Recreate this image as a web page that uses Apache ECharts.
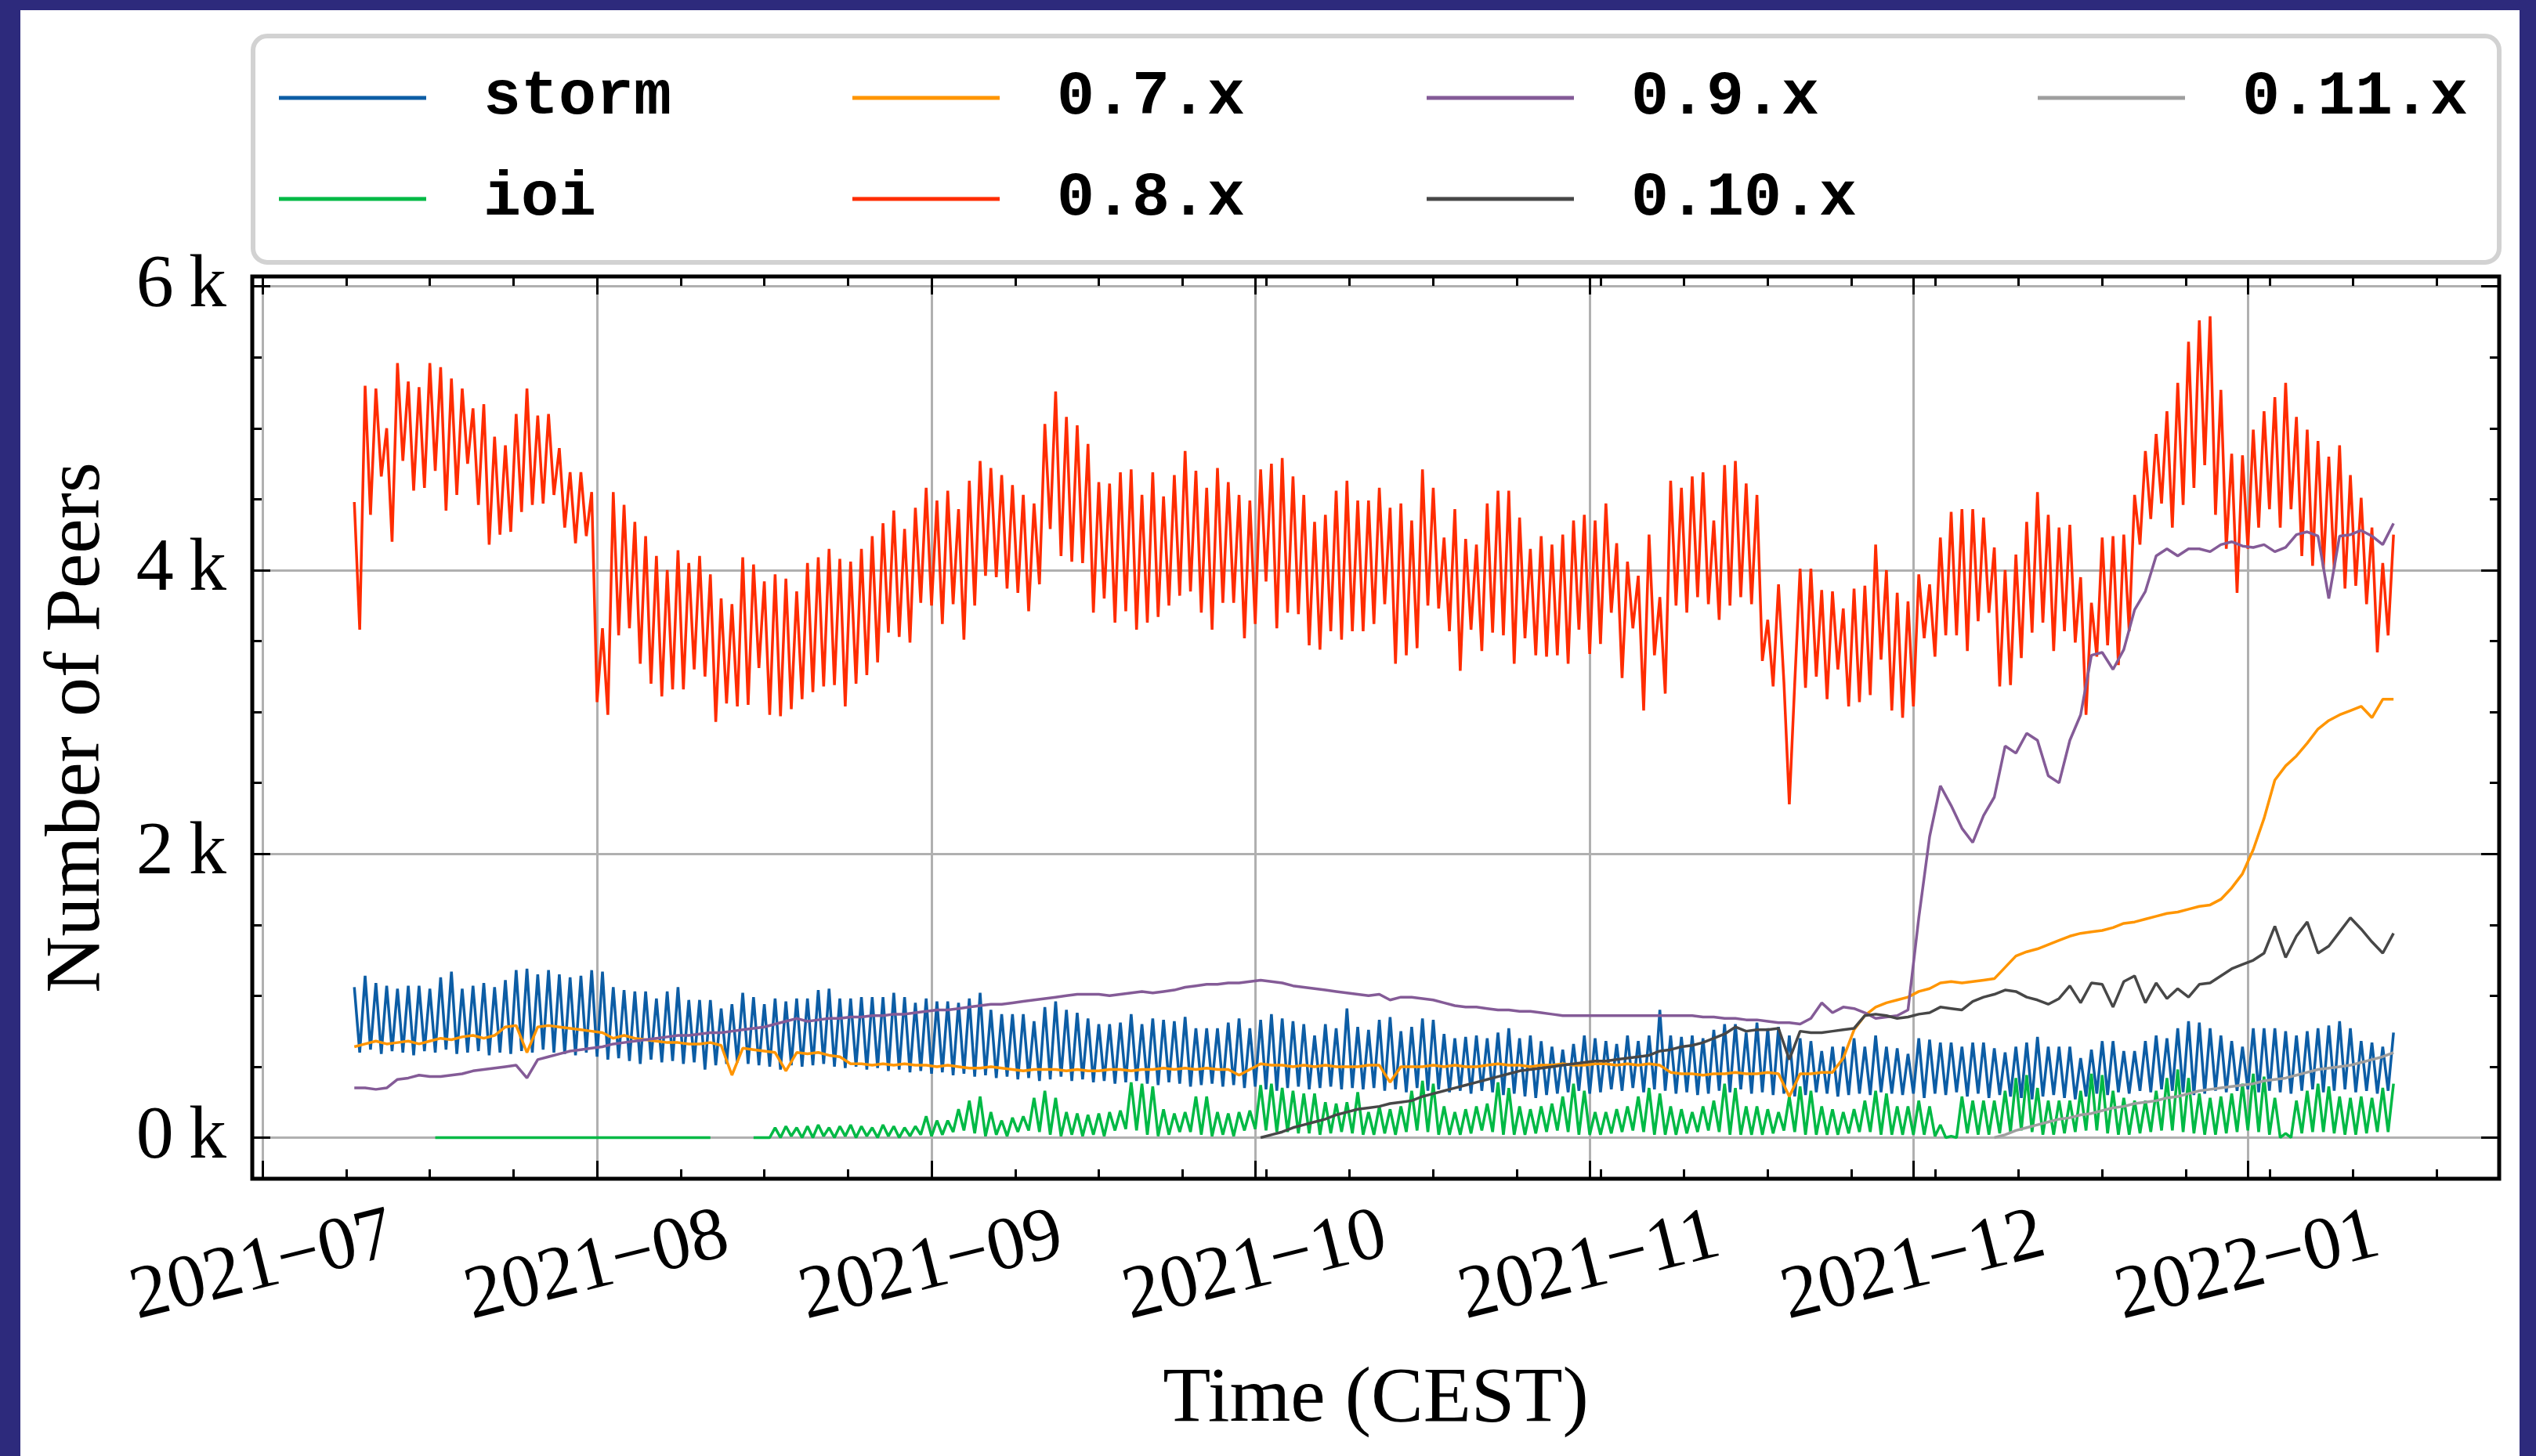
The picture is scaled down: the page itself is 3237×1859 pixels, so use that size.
<!DOCTYPE html>
<html><head><meta charset="utf-8">
<script src="https://cdn.jsdelivr.net/npm/echarts@6/dist/echarts.min.js"></script>
<style>
html,body{margin:0;padding:0;background:#2d2a7c;width:3237px;height:1859px;overflow:hidden;}
#panel{position:absolute;left:26px;top:13px;width:3190px;height:1846px;background:#ffffff;}
#chart{width:3190px;height:1846px;}
</style></head><body>
<div id="panel"><div id="chart"></div></div>
<script>
// ---------------- DATA (values in thousands of peers) ----------------
const seriesNames = ['storm', 'ioi', '0.7.x', '0.8.x', '0.9.x', '0.10.x', '0.11.x'];
const seriesColors = ['#0C5DA5', '#00B945', '#FF9500', '#FF2C00', '#845B97', '#474747', '#9e9e9e'];

// sample timeline: half-day samples starting 2021-07-09 12:00 UTC
const sampleStart = Date.UTC(2021, 6, 9, 12);
const sampleStepHours = 12;

const monthTicks = ['2021-07-01', '2021-08-01', '2021-09-01', '2021-10-01', '2021-11-01', '2021-12-01', '2022-01-01'];
const minorTickStepDays = 7.75;
const yTicks = [0, 2, 4, 6];
const yMinorTicks = [0.5, 1, 1.5, 2.5, 3, 3.5, 4.5, 5, 5.5];
const xRange = ['2021-06-30T01:00:00Z', '2022-01-24T07:00:00Z'];
const yRange = [-0.29, 6.07];

// 0.8.x : half-day samples (peak / trough alternating)
const v08_jul = [4.48,3.58,5.30,4.39,5.28,4.66,5.00,4.20,5.46,4.77,
5.33,4.56,5.29,4.58,5.46,4.70,5.43,4.42,5.35,4.53,
5.28,4.75,5.14,4.46,5.17,4.18,4.94,4.25,4.88,4.27,
5.10,4.41,5.28,4.46,5.09,4.47,5.10,4.53,4.86,4.30,
4.69,4.19,4.69,4.24,4.55,3.07,3.59,2.98,4.55,3.54,
4.46,3.59,4.34,3.34,4.24,3.20,4.10,3.11,4.00,3.16,
4.14,3.16,4.05,3.30,4.10,3.25,3.97,2.93,3.80,3.06,
3.76,3.04,4.09,3.05,4.04,3.31,3.92,2.98,3.97,2.97,
3.94,3.02,3.85,3.09];
const v08_sep = [4.05,3.14,4.09,3.18,4.15,3.19,4.08,3.04,4.06,3.20,
4.15,3.26,4.24,3.35,4.33,3.56,4.42,3.53,4.29,3.49,
4.44,3.77,4.58,3.75,4.49,3.62,4.56,3.76,4.43,3.51,
4.63,3.75,4.77,3.96,4.72,3.95,4.67,3.87,4.60,3.84,
4.53,3.71,4.47,3.90,5.03,4.29,5.26,4.10,5.08,4.06,
5.02,4.05,4.89,3.70,4.62,3.80,4.61,3.63,4.69,3.71,
4.71,3.58,4.53,3.63,4.69,3.67,4.52,3.75,4.67,3.82,
4.84,3.85,4.70,3.70,4.58,3.58,4.72,3.77,4.62,3.77,
4.53,3.52,4.49,3.62,4.71,3.92,4.75,3.59,4.79,3.70,
4.66,3.69,4.53,3.47,4.34,3.44,4.39,3.57,4.56,3.51,
4.63,3.57,4.49];
const v08_oct = [3.57,4.49,3.62,4.58,3.76,4.44,3.34,4.47,3.40,4.35,
3.45,4.71,3.75,4.58,3.73,4.23,3.57,4.43,3.29,4.22,
3.58,4.18,3.43,4.47,3.56,4.56,3.54,4.56,3.34,4.37,
3.52,4.15,3.40,4.24,3.39,4.18,3.40,4.25,3.34,4.35,
3.58,4.39,3.41,4.35,3.48,4.47,3.70,4.19,3.24,4.06,
3.59,3.96,3.01,4.25,3.40,3.81,3.13,4.63,3.75,4.58,
3.70,4.66,3.81,4.69,3.76,4.35,3.65,4.74,3.75,4.77,
3.81,4.61,3.76,4.53,3.36,3.65,3.18,3.90,3.21,2.35,
3.20,4.01,3.17,4.01,3.25,3.86,3.09,3.85,3.30,3.73,
3.04,3.87,3.07,3.89,3.12,4.18,3.37,4.00,3.01,3.84,
2.96,3.78,3.04,3.97];
const v08_dec = [3.52,3.90,3.39,4.23,3.54,4.41,3.54,4.43,3.43,4.43,
3.64,4.37,3.70,4.16,3.18,4.00,3.19,4.11,3.38,4.34,
3.56,4.55,3.63,4.39,3.43,4.30,3.57,4.32,3.49,3.95,
2.98,3.77,3.39,4.23,3.47,4.24,3.33,4.25,3.57,4.53,
4.18,4.84,4.36,4.96,4.47,5.12,4.30,5.32,4.46,5.61,
4.58,5.76,4.74,5.79,4.39,5.27,4.15,4.82,3.84,4.81,
4.15,4.99,4.30,5.12,4.43,5.22,4.30,5.32,4.43,5.08,
4.10,4.99,4.03,4.91,4.01,4.80,4.01,4.88,3.87,4.67,
3.89,4.51,3.76,4.30,3.42,4.05,3.54,4.25];

// storm : daily peaks and troughs (half-day alternating)
const stormPeaks = [1.06,1.14,1.09,1.07,1.05,1.07,1.07,1.05,1.13,1.17,
1.05,1.07,1.09,1.06,1.11,1.18,1.19,1.15,1.18,1.15,
1.13,1.14,1.18,1.17,1.06,1.04,1.03,1.03,0.98,1.03,
1.06,0.97,0.97,0.97,0.91,0.94,1.02,0.99,0.94,0.98,
0.96,0.98,
0.98,1.04,1.05,0.98,0.98,0.99,0.99,0.99,1.02,0.99,
0.95,0.98,0.96,0.96,0.95,0.98,1.02,0.90,0.87,0.87,
0.87,0.82,0.92,0.96,0.90,0.88,0.84,0.80,0.80,0.81,
0.87,0.80,0.84,0.83,0.82,0.85,0.77,0.77,0.77,0.81,
0.84,0.77,0.83,0.87,0.84,0.82,0.80,0.72,0.80,0.77,
0.91,0.78,
0.76,0.83,0.85,0.75,0.78,0.84,0.83,0.73,0.70,0.71,
0.72,0.70,0.74,0.77,0.70,0.72,0.68,0.64,0.62,0.66,
0.72,0.70,0.68,0.66,0.72,0.68,0.72,0.90,0.72,0.71,
0.72,0.70,0.76,0.80,0.80,0.74,0.81,0.77,0.78,0.72,
0.70,0.68,0.61,0.64,0.64,0.70,0.64,0.72,0.64,0.63,
0.59,
0.70,0.69,0.67,0.67,0.64,0.67,0.67,0.63,0.60,0.64,
0.67,0.71,0.64,0.64,0.64,0.56,0.62,0.68,0.68,0.61,
0.61,0.68,0.72,0.70,0.77,0.82,0.81,0.77,0.72,0.68,
0.64,0.77,0.77,0.77,0.75,0.72,0.75,0.77,0.79,0.82,
0.77,0.68,0.67,0.64,0.74];
const stormTroughs = [0.60,0.62,0.59,0.61,0.60,0.58,0.61,0.60,0.62,0.59,
0.60,0.61,0.58,0.60,0.59,0.61,0.60,0.62,0.60,0.59,0.58,0.60,
0.57,0.55,0.56,0.54,0.52,0.55,0.53,0.54,0.52,0.53,
0.48,0.51,0.52,0.53,0.52,0.51,0.50,0.48,0.51,0.50,
0.51,0.52,0.50,0.49,0.50,0.48,0.49,0.47,0.48,0.46,
0.47,0.45,0.46,0.44,0.45,0.43,0.44,0.42,0.43,0.41,
0.42,0.40,0.41,0.43,0.40,0.41,0.39,0.40,0.38,0.39,
0.40,0.38,0.37,0.39,0.38,0.36,0.37,0.38,0.36,0.37,
0.35,0.36,0.34,0.33,0.35,0.36,0.34,0.35,0.36,0.34,
0.35,
0.34,0.35,0.33,0.34,0.32,0.35,0.33,0.34,0.32,0.33,
0.31,0.33,0.32,0.30,0.31,0.29,0.28,0.30,0.31,0.32,
0.33,0.31,0.32,0.34,0.33,0.35,0.32,0.34,0.33,0.31,
0.32,0.30,0.31,0.33,0.32,0.34,0.31,0.32,0.30,0.31,
0.29,0.30,0.32,0.31,0.29,0.30,0.31,0.30,0.32,0.31,
0.30,0.31,
0.28,0.31,0.30,0.32,0.29,0.31,0.28,0.30,0.29,0.28,
0.27,0.29,0.30,0.28,0.27,0.29,0.31,0.30,0.32,0.31,
0.33,0.32,0.34,0.33,0.32,0.30,0.31,0.33,0.32,0.33,
0.34,0.32,0.33,0.32,0.31,0.33,0.34,0.32,0.33,0.34,
0.32,0.33,0.31,0.33];

// ioi : leading half-day samples (flat zero with gaps), then daily peaks / troughs
const ioiLead = [null,null,null,null,null,null,null,null,null,null,null,null,null,null,null,
0,0,0,0,0,0,0,0,0,0,0,0,0,0,0,0,0,0,0,0,0,0,0,0,0,0,0,0,0,0,0,0,0,0,0,0,0,0,0,0,0,0,0,0,0,0,0,0,0,0,0,0,
null,0,null,null,null,null,null,0,0,0,0];
const ioiPeaks = [0.07,0.08,0.07,
0.08,0.09,0.07,0.08,0.09,0.08,0.07,0.09,0.08,0.07,0.08,
0.15,0.12,0.12,0.20,0.26,0.29,0.18,0.12,0.14,0.15,
0.28,0.33,0.28,0.18,0.17,0.16,0.17,0.18,0.19,0.39,
0.38,0.36,0.20,0.17,0.18,0.29,0.29,0.18,0.17,0.18,
0.19,0.37,0.38,0.35,0.33,0.31,0.31,0.25,0.24,0.25,0.32,
0.18,0.22,0.20,0.22,0.33,0.40,0.38,0.22,0.18,0.20,
0.22,0.24,0.39,0.35,0.22,0.20,0.22,0.24,0.29,0.38,
0.33,0.18,0.18,0.20,0.22,0.29,0.35,0.31,0.22,0.20,
0.18,0.22,0.26,0.38,0.35,0.22,0.22,0.20,0.18,0.29,
0.36,0.33,0.22,0.20,0.18,0.20,0.26,0.33,0.31,0.22,
0.22,
0.26,0.22,0.09,0.01,0.29,0.26,0.26,0.26,0.33,0.42,
0.44,0.35,0.26,0.26,0.26,0.33,0.45,0.44,0.33,0.28,
0.26,0.26,0.33,0.42,0.48,0.42,0.31,0.28,0.29,0.31,
0.38,0.45,0.43,0.28,0.03,0.26,0.33,0.38,0.36,0.29,
0.28,0.29,0.28,0.35,0.38];
const ioiTroughs = [0.00,0.01,0.00,
0.00,0.01,0.00,0.01,0.00,0.01,0.00,0.01,0.00,0.01,
0.02,0.01,0.02,0.04,0.05,0.03,0.01,0.02,0.01,0.04,
0.05,0.04,0.02,0.01,0.02,0.01,0.02,0.01,0.05,0.06,
0.05,0.02,0.01,0.02,0.04,0.04,0.02,0.01,0.02,0.01,
0.05,0.06,0.05,0.04,0.04,0.03,0.03,0.02,0.03,0.04,
0.03,
0.02,0.02,0.03,0.02,0.04,0.05,0.04,0.02,0.02,0.02,
0.03,0.05,0.04,0.02,0.02,0.02,0.03,0.04,0.05,0.04,
0.02,0.02,0.02,0.03,0.04,0.05,0.04,0.02,0.02,0.02,
0.03,0.04,0.05,0.04,0.02,0.02,0.02,0.02,0.03,0.05,
0.04,0.02,0.02,0.02,0.02,0.03,0.04,0.04,0.02,0.02,
0.02,
0.02,0.02,0.01,0.00,0.00,0.03,0.02,0.02,0.03,0.04,
0.05,0.04,0.02,0.02,0.03,0.04,0.05,0.05,0.03,0.02,
0.02,0.03,0.04,0.05,0.05,0.04,0.03,0.02,0.02,0.03,
0.04,0.05,0.04,0.02,0.00,0.00,0.03,0.04,0.04,0.03,
0.02,0.02,0.03,0.04,0.04];

// daily samples
const v07 = [0.64,0.66,0.68,0.66,0.67,0.68,0.66,0.68,0.70,0.69,
0.71,0.72,0.70,0.72,0.78,0.79,0.60,0.78,0.79,0.78,
0.77,0.76,0.75,0.74,0.70,0.72,0.70,0.69,0.68,0.67,
0.67,0.66,0.66,0.67,0.65,0.44,0.63,0.62,0.61,0.60,
0.47,0.60,
0.59,0.60,0.58,0.57,0.52,0.52,0.51,0.52,0.51,0.52,
0.51,0.51,0.50,0.51,0.50,0.49,0.49,0.50,0.49,0.48,
0.47,0.48,0.48,0.48,0.47,0.48,0.47,0.47,0.48,0.48,
0.47,0.48,0.48,0.49,0.48,0.49,0.48,0.49,0.48,0.48,
0.44,0.48,0.52,0.51,0.51,0.50,0.51,0.50,0.51,0.50,
0.50,
0.50,0.51,0.51,0.39,0.50,0.50,0.50,0.51,0.50,0.51,
0.50,0.50,0.51,0.52,0.51,0.51,0.50,0.51,0.51,0.52,
0.51,0.51,0.52,0.52,0.51,0.52,0.51,0.52,0.51,0.46,
0.45,0.45,0.44,0.45,0.45,0.46,0.45,0.45,0.46,0.45,
0.29,0.45,0.45,0.46,0.46,0.56,0.76,0.86,0.92,0.95,
0.97,0.99,
1.03,1.05,1.09,1.10,1.09,1.10,1.11,1.12,1.20,1.28,
1.31,1.33,1.36,1.39,1.42,1.44,1.45,1.46,1.48,1.51,
1.52,1.54,1.56,1.58,1.59,1.61,1.63,1.64,1.68,1.76,
1.86,2.03,2.25,2.52,2.62,2.69,2.78,2.88,2.94,2.98,
3.01,3.04,2.96,3.09,3.09];
const v09 = [0.35,0.35,0.34,0.35,0.41,0.42,0.44,0.43,0.43,0.44,
0.45,0.47,0.48,0.49,0.50,0.51,0.42,0.55,0.57,0.59,
0.61,0.62,0.63,0.64,0.66,0.67,0.68,0.69,0.70,0.71,
0.72,0.72,0.73,0.74,0.74,0.75,0.76,0.77,0.78,0.80,
0.82,0.84,
0.82,0.83,0.84,0.84,0.85,0.85,0.86,0.86,0.87,0.87,
0.88,0.89,0.90,0.90,0.91,0.92,0.93,0.94,0.94,0.95,
0.96,0.97,0.98,0.99,1.00,1.01,1.01,1.01,1.00,1.01,
1.02,1.03,1.02,1.03,1.04,1.06,1.07,1.08,1.08,1.09,
1.09,1.10,1.11,1.10,1.09,1.07,1.06,1.05,1.04,1.03,
1.02,
1.01,1.00,1.01,0.97,0.99,0.99,0.98,0.97,0.95,0.93,
0.92,0.92,0.91,0.90,0.90,0.89,0.89,0.88,0.87,0.86,
0.86,0.86,0.86,0.86,0.86,0.86,0.86,0.86,0.86,0.86,
0.86,0.86,0.85,0.85,0.84,0.84,0.83,0.83,0.82,0.81,
0.81,0.80,0.84,0.95,0.88,0.92,0.91,0.88,0.84,0.85,
0.86,0.90,
1.55,2.12,2.48,2.34,2.18,2.08,2.27,2.40,2.76,2.71,
2.85,2.80,2.55,2.50,2.80,2.98,3.40,3.42,3.30,3.44,
3.72,3.85,4.10,4.15,4.10,4.15,4.15,4.13,4.18,4.20,
4.17,4.16,4.18,4.13,4.16,4.25,4.27,4.24,3.80,4.24,
4.25,4.28,4.24,4.18,4.33];
const v010StartDay = 84;
const v010 = [0.00,0.02,0.04,0.07,0.09,0.11,0.13,0.16,0.18,
0.20,0.21,0.22,0.24,0.25,0.26,0.29,0.31,0.33,0.35,
0.37,0.39,0.41,0.43,0.45,0.47,0.48,0.49,0.50,0.51,
0.52,0.53,0.54,0.54,0.55,0.56,0.57,0.58,0.61,0.62,
0.64,0.65,0.67,0.70,0.73,0.78,0.75,0.76,0.76,0.77,
0.55,0.75,0.74,0.74,0.75,0.76,0.77,0.86,0.87,0.86,
0.84,0.85,
0.87,0.88,0.92,0.91,0.90,0.96,0.99,1.01,1.04,1.03,
0.99,0.97,0.94,0.98,1.07,0.95,1.09,1.08,0.92,1.10,
1.14,0.95,1.09,0.98,1.05,0.99,1.08,1.09,1.14,1.19,
1.22,1.25,1.30,1.49,1.27,1.42,1.52,1.30,1.35,1.45,
1.55,1.47,1.38,1.30,1.44];
const v011StartDay = 152;
const v011 = [0.00,0.02,0.05,0.07,0.09,0.11,0.13,0.14,0.16,0.17,
0.19,0.21,0.22,0.24,0.25,0.26,0.28,0.29,0.31,0.33,
0.34,0.35,0.36,0.37,0.38,0.40,0.41,0.42,0.44,0.46,
0.48,0.49,0.50,0.51,0.53,0.55,0.57,0.60];

// ---------------- BUILD ----------------
const HOUR = 3600 * 1000;
function interleave(a, b) {
  const out = [];
  for (let i = 0; i < a.length; i++) { out.push(a[i]); if (i < b.length) out.push(b[i]); }
  return out;
}
function halfDay(vals) { return vals.map((v, k) => [sampleStart + k * sampleStepHours * HOUR, v]); }
function daily(vals, offset) { return vals.map((v, i) => [sampleStart + (offset + i) * 2 * sampleStepHours * HOUR, v]); }

const seriesData = [
  halfDay(interleave(stormPeaks, stormTroughs)),
  halfDay(ioiLead.concat(interleave(ioiPeaks, ioiTroughs))),
  daily(v07, 0),
  halfDay(v08_jul.concat(v08_sep, v08_oct, v08_dec)),
  daily(v09, 0),
  daily(v010, v010StartDay),
  daily(v011, v011StartDay)
];

const monthVals = monthTicks.map(s => Date.parse(s + 'T00:00:00Z'));
const xMin = Date.parse(xRange[0]);
const xMax = Date.parse(xRange[1]);
const minorVals = [];
for (let t = monthVals[0] + minorTickStepDays * 24 * HOUR; t < xMax; t += minorTickStepDays * 24 * HOUR) minorVals.push(t);

const serif = '"Liberation Serif", "Times New Roman", serif';
const mono = '"Liberation Mono", "Courier New", monospace';
const fmtMonth = v => { const d = new Date(v); return d.getUTCFullYear() + '\u2212' + String(d.getUTCMonth() + 1).padStart(2, '0'); };

function tickAxis(position, values, len, isX) {
  return {
    type: 'value', position: position, min: isX ? xMin : yRange[0], max: isX ? xMax : yRange[1],
    axisLine: { show: false, onZero: false },
    axisTick: { show: true, inside: true, length: len, lineStyle: { color: '#000', width: 3 }, customValues: values },
    axisLabel: { show: false }, splitLine: { show: false }, minorTick: { show: false }
  };
}

const chart = echarts.init(document.getElementById('chart'), null, { renderer: 'canvas', width: 3190, height: 1846 });

const legendCommon = {
  orient: 'vertical', top: 53, icon: 'rect', itemWidth: 188, itemHeight: 5, itemGap: 11,
  selectedMode: false, padding: 0,
  textStyle: { fontFamily: mono, fontSize: 80, fontWeight: 'bold', color: '#000', lineHeight: 100, padding: [18, 0, 0, 68] }
};

chart.setOption({
  animation: false,
  backgroundColor: '#ffffff',
  grid: { left: 296, right: 26, top: 340, bottom: 354, show: true, borderColor: '#000', borderWidth: 5, backgroundColor: 'transparent' },
  graphic: [{
    type: 'rect', left: 294, top: 30, z: 0, silent: true,
    shape: { width: 2867, height: 289, r: 18 },
    style: { fill: '#ffffff', stroke: '#d2d2d2', lineWidth: 6 }
  }],
  legend: [
    Object.assign({}, legendCommon, { left: 330, data: ['storm', 'ioi'] }),
    Object.assign({}, legendCommon, { left: 1062, data: ['0.7.x', '0.8.x'] }),
    Object.assign({}, legendCommon, { left: 1795, data: ['0.9.x', '0.10.x'] }),
    Object.assign({}, legendCommon, { left: 2575, data: ['0.11.x'] })
  ],
  xAxis: [
    {
      type: 'value', position: 'bottom', min: xMin, max: xMax,
      axisLine: { show: false, onZero: false },
      axisTick: { show: true, inside: true, length: 23, lineStyle: { color: '#000', width: 3 }, customValues: monthVals },
      axisLabel: { show: true, customValues: monthVals, formatter: fmtMonth, rotate: 14, align: 'center', verticalAlign: 'middle',
        margin: 113, fontSize: 96, fontFamily: serif, color: '#000' },
      splitLine: { show: true, lineStyle: { color: '#b0b0b0', width: 3 } },
      name: 'Time (CEST)', nameLocation: 'middle', nameGap: 233,
      nameTextStyle: { fontFamily: serif, fontSize: 100, color: '#000' }
    },
    tickAxis('bottom', minorVals, 12, true),
    tickAxis('top', monthVals, 23, true),
    tickAxis('top', minorVals, 12, true)
  ],
  yAxis: [
    {
      type: 'value', position: 'left', min: yRange[0], max: yRange[1],
      axisLine: { show: false, onZero: false },
      axisTick: { show: true, inside: true, length: 23, lineStyle: { color: '#000', width: 3 }, customValues: yTicks },
      axisLabel: { show: true, customValues: yTicks, formatter: v => v + '\u2009k', margin: 33, fontSize: 96, fontFamily: serif, color: '#000' },
      splitLine: { show: true, lineStyle: { color: '#b0b0b0', width: 3 } },
      name: 'Number of Peers', nameLocation: 'middle', nameGap: 172, nameRotate: 90,
      nameTextStyle: { fontFamily: serif, fontSize: 100, color: '#000' }
    },
    tickAxis('left', yMinorTicks, 12, false),
    tickAxis('right', yTicks, 23, false),
    tickAxis('right', yMinorTicks, 12, false)
  ],
  series: seriesNames.map((name, i) => ({
    name: name, type: 'line', data: seriesData[i], xAxisIndex: 0, yAxisIndex: 0,
    showSymbol: false, symbol: 'none', connectNulls: false, z: 2,
    lineStyle: { width: 3.5, color: seriesColors[i] },
    itemStyle: { color: seriesColors[i] },
    emphasis: { disabled: true }
  }))
});
</script></body></html>
